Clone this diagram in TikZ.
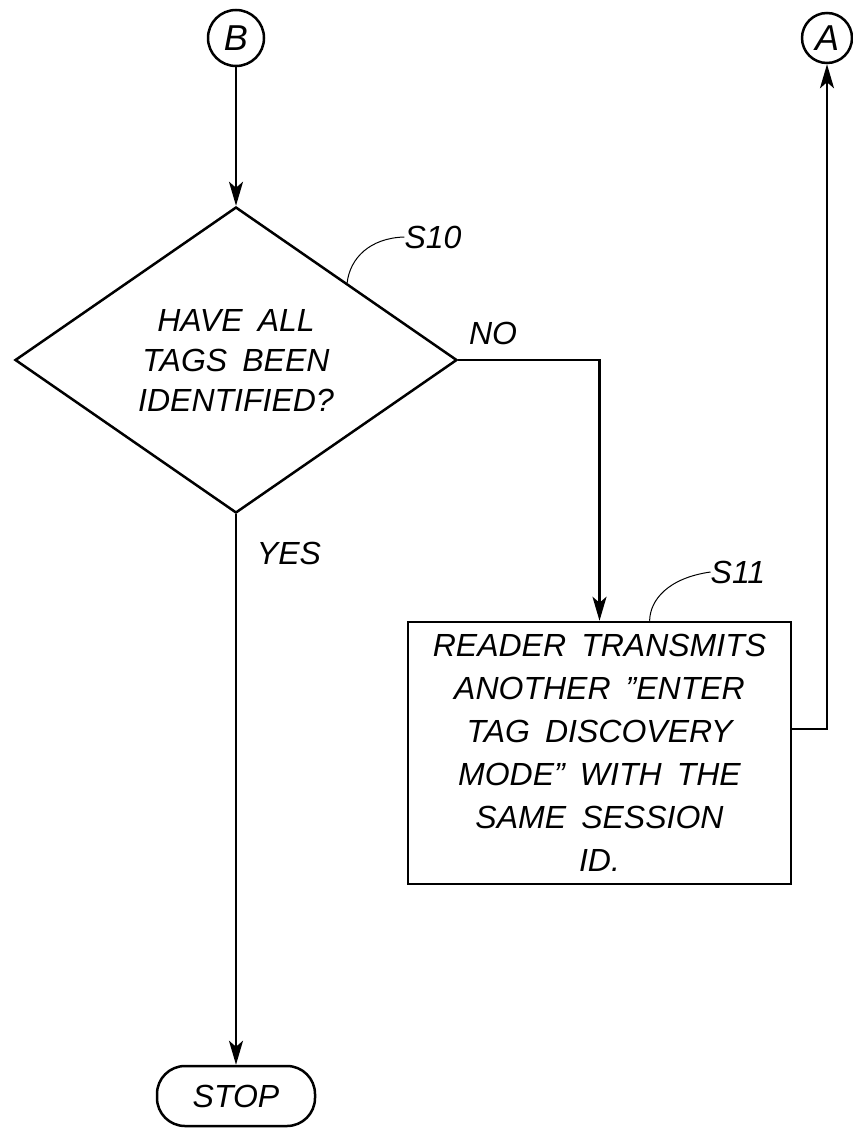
\documentclass[tikz,border=0pt]{standalone}
\usepackage{fontspec}
\setmainfont{Liberation Sans}[WordSpace=1.7]
\usetikzlibrary{shapes.geometric,arrows.meta,calc}
\begin{document}
\begin{tikzpicture}[x=1pt,y=-1pt,
  every node/.style={font=\fontsize{32}{40}\selectfont\itshape},
  conn/.style={line width=2.5pt},
  arr/.style={conn,-{Stealth[length=24pt,width=14pt,inset=6pt]}},
  lead/.style={line width=1pt},
  conncirc/.style={circle,draw,line width=2.5pt,minimum size=56pt,inner sep=0pt,font=\fontsize{36}{40}\selectfont\itshape},
  decision/.style={diamond,draw,line width=2.5pt,minimum width=442pt,minimum height=306pt,inner sep=0pt,align=center},
  process/.style={rectangle,draw,line width=2.5pt,minimum width=383pt,minimum height=262pt,inner sep=0pt,align=center,font=\fontsize{32}{43}\selectfont\itshape},
  terminal/.style={rectangle,rounded corners=28pt,draw,line width=2.5pt,minimum width=158pt,minimum height=60pt,inner sep=0pt},
  lbl/.style={inner sep=0pt}]
\useasboundingbox (0,0) rectangle (853,1129);
\node[conncirc] (B) at (236,38) {B};
\node[conncirc,minimum size=50pt] (A) at (827,38) {A};
\node[decision] (D) at (236,360) {HAVE ALL\\TAGS BEEN\\IDENTIFIED?};
\node[process] (P) at (599.5,753) {READER TRANSMITS\\ANOTHER ''ENTER\\TAG DISCOVERY\\MODE'' WITH THE\\SAME SESSION\\ID.};
\node[terminal] (S) at (236,1096) {STOP};
\node[lbl] (s10) at (433,237) {S10};
\node[lbl] (no) at (493,333) {NO};
\node[lbl] (yes) at (289,553) {YES};
\node[lbl] (s11) at (738,572) {S11};
\coordinate (e10) at ($(D.north)!0.5!(D.east)$);
\coordinate (e11) at ($(P.north west)!0.63!(P.north east)$);
\coordinate (pa) at ($(P.north east)!0.41!(P.south east)$);
\draw[arr] (B) -- (D.north);
\draw[arr] (D.east) -| (P.north);
\draw[arr] (D.south) -- (S.north);
\draw[arr] (pa) -| (A.south);
\draw[lead] (s10.west) .. controls (370,238) and (350,258) .. (e10);
\draw[lead] (s11.west) .. controls (668,578) and (650,600) .. (e11);
\end{tikzpicture}
\end{document}
